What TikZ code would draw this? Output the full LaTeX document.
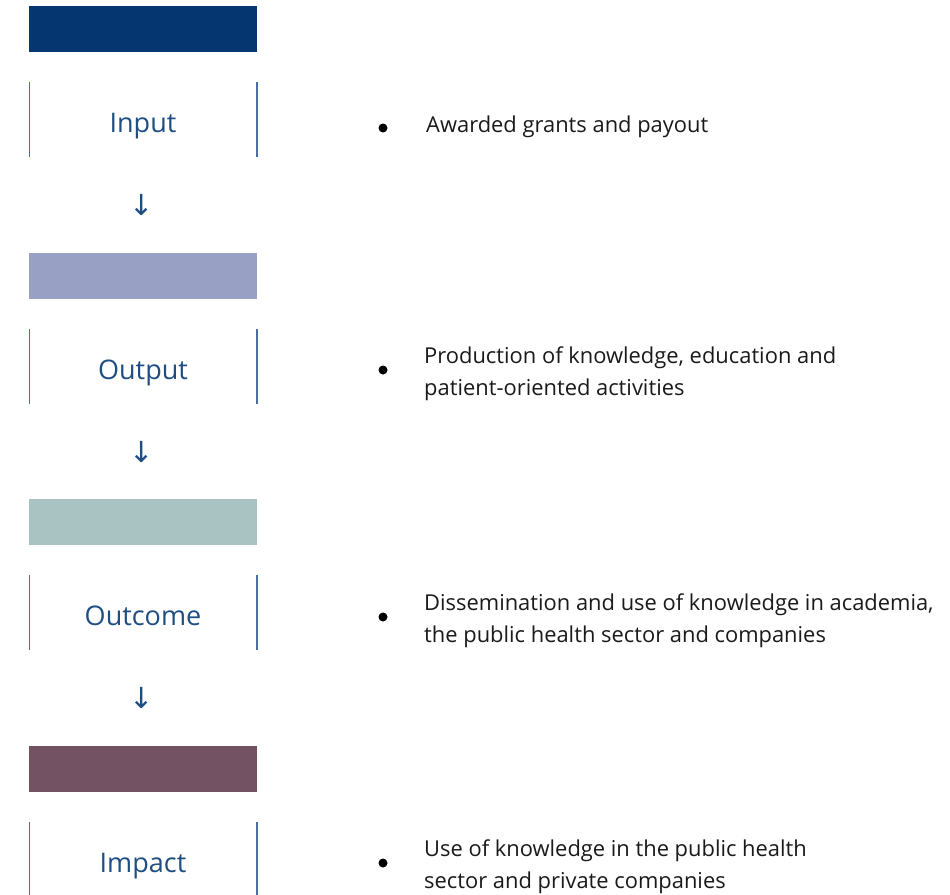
\documentclass[tikz,border=0pt]{standalone}
\usepackage{fontspec}
\setmainfont{Open Sans}
\newfontfamily\arrowfont{DejaVu Sans}
\usetikzlibrary{positioning}

\definecolor{inputblue}{HTML}{053670}
\definecolor{outputlilac}{HTML}{98A0C4}
\definecolor{outcometeal}{HTML}{A9C3C3}
\definecolor{impactplum}{HTML}{735264}
\definecolor{labelblue}{HTML}{1F4E82}
\definecolor{sideblue}{HTML}{4A6FA0}
\definecolor{itemgray}{HTML}{1A1A1A}

\tikzset{
  bar/.style={inner sep=0pt, minimum width=228pt, minimum height=46pt},
  stagebox/.style={inner sep=0pt, minimum width=227pt, minimum height=75pt,
    text height=25pt, text depth=0pt,
    text=labelblue, font=\fontsize{27}{32}\selectfont},
  side/.style={sideblue, line width=1.6pt},
  stepdown/.style={text=labelblue, font=\arrowfont\fontsize{29}{32}\selectfont, inner sep=0pt},
  dot/.style={circle, fill=black, inner sep=0pt, minimum size=9pt},
  item/.style={anchor=west, align=left, inner sep=0pt, text=itemgray,
    font=\fontsize{21.9}{32}\selectfont}
}

\begin{document}
\begin{tikzpicture}[x=1pt, y=-1pt]
  \useasboundingbox (0,0) rectangle (950,894);

  % stage bars
  \node[bar, fill=inputblue] (inbar) at (143,29) {};
  \node[bar, fill=outputlilac] (outbar) at (143,276) {};
  \node[bar, fill=outcometeal] (ocbar) at (143,522) {};
  \node[bar, fill=impactplum] (impbar) at (143,769) {};

  % stage labels
  \node[stagebox] (input) at (143,119.5) {Input};
  \node[stagebox] (output) at (143,366.5) {Output};
  \node[stagebox] (outcome) at (143,612.5) {Outcome};
  \node[stagebox] (impact) at (143,859.5) {Impact};

  \foreach \s in {input,output,outcome,impact} {
    \draw[side] (\s.north west) -- (\s.south west);
    \draw[side] (\s.north east) -- (\s.south east);
  }

  % arrows between stages
  \node[stepdown] (arr1) at (142,205) {↓};
  \node[stepdown] (arr2) at (142,452) {↓};
  \node[stepdown] (arr3) at (142,698) {↓};

  % descriptions
  \node[dot] (dot1) at (383,128) {};
  \node[item] (txt1) at (426,127) {Awarded grants and payout};

  \node[dot] (dot2) at (383,370) {};
  \node[item] (txt2) at (424,374) {Production of knowledge, education and\\patient-oriented activities};

  \node[dot] (dot3) at (383,617) {};
  \node[item] (txt3) at (424,621) {Dissemination and use of knowledge in academia,\\the public health sector and companies};

  \node[dot] (dot4) at (383,863) {};
  \node[item] (txt4) at (424,867) {Use of knowledge in the public health\\sector and private companies};
\end{tikzpicture}
\end{document}
